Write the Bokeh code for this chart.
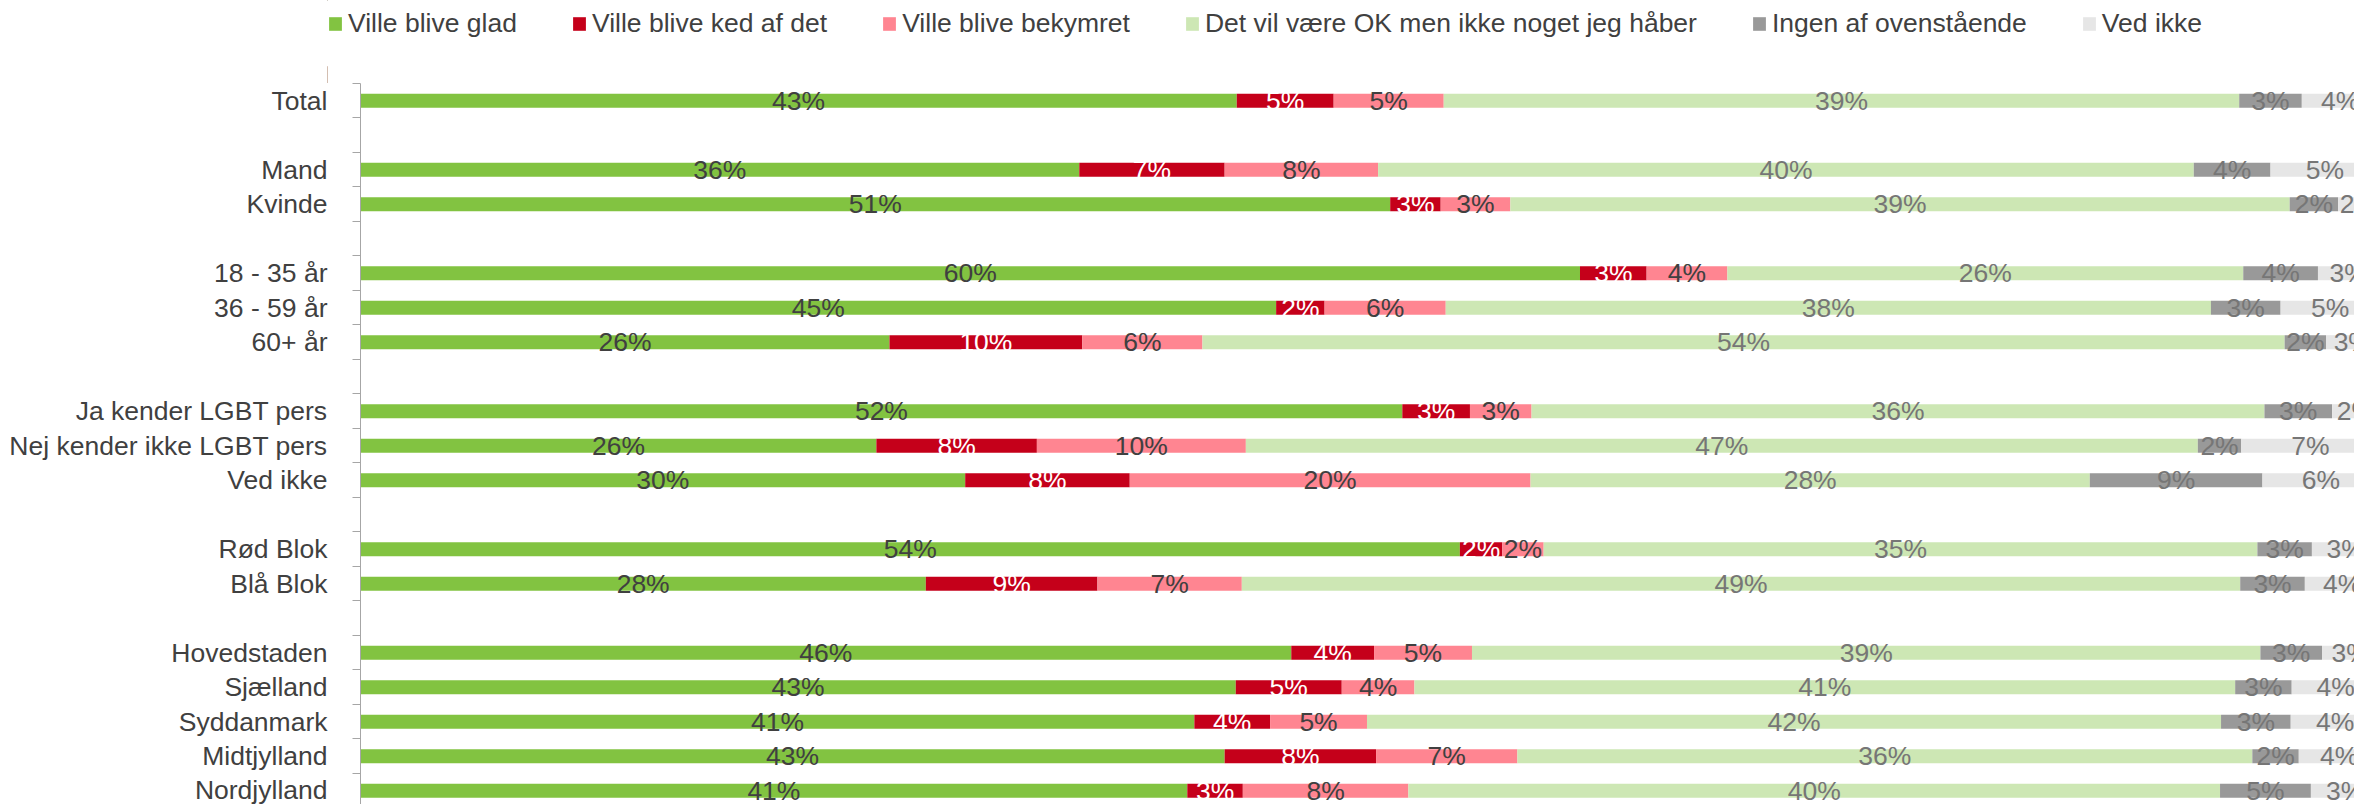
from bokeh.plotting import figure
from bokeh.layouts import column
from bokeh.models import Range1d, FixedTicker, Legend, LegendItem, ColumnDataSource
from bokeh.embed import file_html
from bokeh.resources import INLINE
from bokeh.core.properties import value

# ---------------- data ----------------
groups = [
    ["Total"],
    ["Mand", "Kvinde"],
    ["18 - 35 år", "36 - 59 år", "60+ år"],
    ["Ja kender LGBT pers", "Nej kender ikke LGBT pers", "Ved ikke"],
    ["Rød Blok", "Blå Blok"],
    ["Hovedstaden", "Sjælland", "Syddanmark", "Midtjylland", "Nordjylland"],
]
series_names = [
    "Ville blive glad",
    "Ville blive ked af det",
    "Ville blive bekymret",
    "Det vil være OK men ikke noget jeg håber",
    "Ingen af ovenstående",
    "Ved ikke",
]
glad = [43.4, 35.6, 51.0, 60.4, 45.35, 26.2, 51.6, 25.55, 29.95, 54.45, 28.0, 46.1, 43.35, 41.3, 42.8, 40.95]
ked = [4.8, 7.2, 2.5, 3.3, 2.4, 9.55, 3.35, 7.95, 8.15, 2.1, 8.5, 4.1, 5.25, 3.75, 7.5, 2.75]
bekymret = [5.45, 7.6, 3.45, 4.0, 6.0, 5.95, 3.05, 10.35, 19.85, 2.05, 7.15, 4.85, 3.6, 4.8, 7.0, 8.2]
ok = [39.4, 40.4, 38.6, 25.55, 37.9, 53.6, 36.3, 47.15, 27.7, 35.35, 49.45, 39.05, 40.65, 42.3, 36.4, 40.2]
ingen = [3.1, 3.8, 2.4, 3.7, 3.45, 2.05, 3.35, 2.15, 8.55, 2.7, 3.2, 3.05, 2.8, 3.45, 2.3, 4.5]
vedikke = [3.8, 5.4, 2.05, 3.05, 4.9, 2.65, 2.35, 6.85, 5.8, 3.35, 3.7, 2.85, 4.35, 4.4, 4.0, 3.4]

series_values = [glad, ked, bekymret, ok, ingen, vedikke]

# ---------------- styles ----------------
bar_colors = ["#82C341", "#C5001A", "#FF8591", "#CDE7B4", "#999999", "#E6E6E6"]
label_colors = ["#404040", "#FFFFFF", "#404040", "#767676", "#767676", "#767676"]
FONT = "Liberation Sans"
FS = "26.5px"
TEXT = "#404040"

# slot positions: one blank slot between groups
categories, positions = [], []
slot = 0
for gi, g in enumerate(groups):
    if gi > 0:
        slot += 1
    for c in g:
        categories.append(c)
        positions.append(slot)
        slot += 1
n_slots = slot

# stacked sources
sources = []
left = [0.0] * len(categories)
for vals in series_values:
    right = [l + v for l, v in zip(left, vals)]
    mid = [l + v / 2 for l, v in zip(left, vals)]
    labels = [f"{int(v + 0.5)}%" for v in vals]
    sources.append(ColumnDataSource(dict(y=positions, left=left, right=right, mid=mid, label=labels)))
    left = right

# ---------------- legend strip ----------------
lf = figure(
    width=2354, height=83,
    x_range=Range1d(200, 201), y_range=Range1d(0, 1),
    output_backend="svg", toolbar_location=None,
    x_axis_location=None, y_axis_location=None,
    min_border_left=0, min_border_right=0, min_border_top=0, min_border_bottom=0,
    styles={"transform": "translateX(-33px)"},
)
lf.grid.visible = False
lf.outline_line_color = None
swatches = [lf.hbar(y="y", left="left", right="right", height=0.41, source=src,
                    fill_color=c, line_color=None)
            for src, c in zip(sources, bar_colors)]
legend = Legend(
    items=[LegendItem(label=n, renderers=[r]) for n, r in zip(series_names, swatches)],
    orientation="horizontal",
    location=(0, 44),
    glyph_width=16, glyph_height=17, label_height=30,
    label_standoff=5, spacing=54, padding=0, margin=0,
    label_text_font=FONT, label_text_font_size=FS, label_text_color=TEXT,
    border_line_color=None, background_fill_alpha=0,
)
lf.add_layout(legend, "center")

# ---------------- main chart ----------------
p = figure(
    width=2354, height=721,
    x_range=Range1d(0, 98.76),
    y_range=Range1d(20.4, -0.5),
    output_backend="svg", toolbar_location=None,
    x_axis_location=None,
    min_border_left=360, min_border_right=0, min_border_top=0, min_border_bottom=0,
)
p.grid.visible = False
p.outline_line_color = None

for si, src in enumerate(sources):
    p.hbar(y="y", left="left", right="right", height=0.41, source=src,
           fill_color=bar_colors[si], line_color=None)
    p.text(x="mid", y="y", text="label", source=src, text_align="center",
           text_baseline="middle", text_font=value(FONT), text_font_size=FS,
           text_color=label_colors[si])

# y axis
ax = p.yaxis[0]
ax.ticker = FixedTicker(ticks=positions, minor_ticks=[i - 0.5 for i in range(n_slots + 1)])
ax.major_label_overrides = {pos: name for pos, name in zip(positions, categories)}
ax.major_tick_line_color = None
ax.major_tick_out = 0
ax.major_tick_in = 0
ax.minor_tick_line_color = "#A6A6A6"
ax.minor_tick_out = 8
ax.minor_tick_in = 0
ax.axis_line_color = "#A6A6A6"
ax.axis_line_width = 1
ax.major_label_standoff = 25
ax.major_label_text_font = FONT
ax.major_label_text_font_size = FS
ax.major_label_text_color = TEXT

layout = column(lf, p, spacing=0)
open("out.html", "w").write(file_html(layout, INLINE))
